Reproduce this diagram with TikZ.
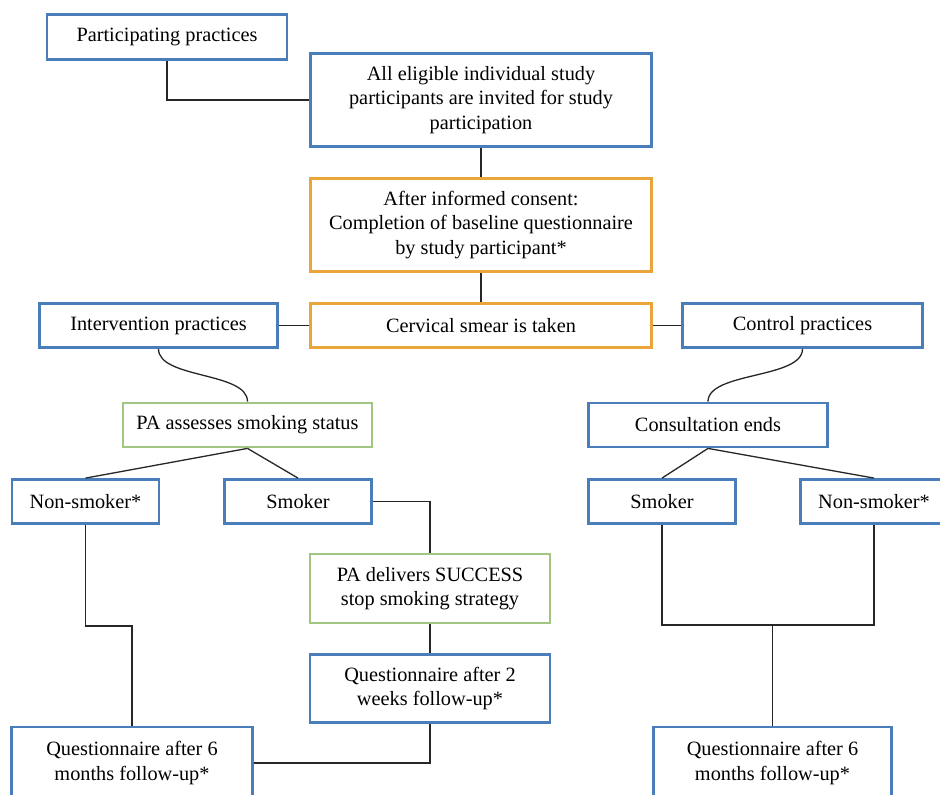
\documentclass[tikz,border=0pt]{standalone}
\usepackage{fontspec}
\setmainfont{Liberation Serif}
\definecolor{boxblue}{RGB}{74,126,187}
\definecolor{boxorange}{RGB}{233,165,58}
\definecolor{boxgreen}{RGB}{160,198,130}
\tikzset{
    flowbox/.style={draw, line width=2.8pt, fill=white, align=center, inner sep=0pt,
        font=\fontsize{20.3}{24.5}\selectfont},
    bluebox/.style={flowbox, draw=boxblue},
    orangebox/.style={flowbox, draw=boxorange},
    greenbox/.style={flowbox, draw=boxgreen},
    link/.style={line width=1.3pt, draw=black!85}
}
\begin{document}
\begin{tikzpicture}[x=1pt,y=-1pt]
    \useasboundingbox (0,0) rectangle (940,795);

    % top column
    \node[bluebox, minimum width=240, minimum height=45] (practices) at (167,37) {Participating practices};
    \node[bluebox, minimum width=341, minimum height=93] (invited) at (481,100)
        {All eligible individual study\\ participants are invited for study\\ participation};
    \node[orangebox, minimum width=341, minimum height=93] (consent) at (481,225)
        {After informed consent:\\ Completion of baseline questionnaire\\ by study participant*};
    \node[orangebox, minimum width=341, minimum height=44] (smear) at (481,325.5) {Cervical smear is taken};
    \node[bluebox, minimum width=238, minimum height=44] (interv) at (158.5,325.5) {Intervention practices};
    \node[bluebox, minimum width=240, minimum height=44] (control) at (802.5,325.5) {Control practices};

    % intervention arm
    \node[greenbox, minimum width=249, minimum height=44] (assess) at (247.5,425) {PA assesses smoking status};
    \node[bluebox, minimum width=147, minimum height=44] (nonsmokL) at (85.5,501.5) {Non-smoker*};
    \node[bluebox, minimum width=147, minimum height=44] (smokL) at (298,501.5) {Smoker};
    \node[greenbox, minimum width=240, minimum height=69] (deliver) at (430,588.5)
        {PA delivers SUCCESS\\ stop smoking strategy};
    \node[bluebox, minimum width=240, minimum height=68] (quest2w) at (430,688.5)
        {Questionnaire after 2\\ weeks follow-up*};
    \node[bluebox, minimum width=241, minimum height=72] (quest6mL) at (132,763)
        {Questionnaire after 6\\ months follow-up*};

    % control arm
    \node[bluebox, minimum width=239, minimum height=44] (consult) at (708,425) {Consultation ends};
    \node[bluebox, minimum width=147, minimum height=44] (smokR) at (662,501.5) {Smoker};
    \node[bluebox, minimum width=147, minimum height=44] (nonsmokR) at (874,501.5) {Non-smoker*};
    \node[bluebox, minimum width=238, minimum height=72] (quest6mR) at (772.5,763)
        {Questionnaire after 6\\ months follow-up*};

    \coordinate (joinL) at (132,626);
    \coordinate (joinR) at (772.5,625);

    % connectors
    \draw[link] (practices.south) |- (invited.west);
    \draw[link] (invited.south) -- (consent.north);
    \draw[link] (consent.south) -- (smear.north);
    \draw[link] (interv.east) -- (smear.west);
    \draw[link] (smear.east) -- (control.west);
    \draw[link] (interv.south) .. controls +(0,30) and +(0,-30) .. (assess.north);
    \draw[link] (control.south) .. controls +(0,30) and +(0,-30) .. (consult.north);
    \draw[link] (assess.south) -- (nonsmokL.north);
    \draw[link] (assess.south) -- (smokL.north);
    \draw[link] (smokL.east) -| (deliver.north);
    \draw[link] (deliver.south) -- (quest2w.north);
    \draw[link] (quest2w.south) |- (quest6mL.east);
    \draw[link] (nonsmokL.south) |- (joinL) -- (quest6mL.north);
    \draw[link] (consult.south) -- (smokR.north);
    \draw[link] (consult.south) -- (nonsmokR.north);
    \draw[link] (smokR.south) |- (joinR) -| (nonsmokR.south);
    \draw[link] (joinR) -- (quest6mR.north);
\end{tikzpicture}
\end{document}
